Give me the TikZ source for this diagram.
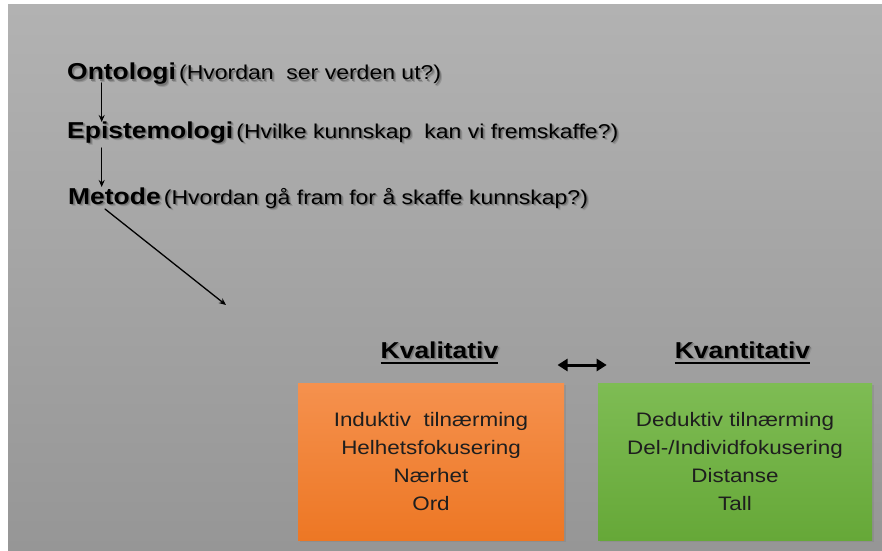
\documentclass[tikz,border=0pt]{standalone}
\usepackage{fontspec}
\setmainfont[FakeStretch=1.15]{Liberation Sans}
\usetikzlibrary{arrows.meta, positioning, calc, shadows}
\definecolor{BGtop}{RGB}{178,178,178}
\definecolor{BGbottom}{RGB}{150,150,150}
\definecolor{KVLtop}{RGB}{245,145,78}
\definecolor{KVLbottom}{RGB}{237,119,36}
\definecolor{KVNtop}{RGB}{126,188,84}
\definecolor{KVNbottom}{RGB}{102,168,56}
\definecolor{TXTdark}{RGB}{30,30,30}
\definecolor{SHDsoft}{RGB}{148,148,148}
\definecolor{SHDdark}{RGB}{118,118,118}
\newcommand{\softshadow}[1]{%
  \rlap{\hspace{2.5pt}\raisebox{-2.5pt}{\textcolor{SHDsoft}{#1}}}%
  \rlap{\hspace{1.5pt}\raisebox{-1.5pt}{\textcolor{SHDdark}{#1}}}#1}
\newcommand{\headword}[1]{{\fontsize{23}{27}\selectfont\bfseries\softshadow{#1}}}
\newcommand{\question}[1]{{\fontsize{20}{24}\selectfont\softshadow{#1}}}
\newcommand{\ulword}[1]{\setbox0\hbox{#1}\rlap{\rule[-6pt]{\wd0}{2pt}}\softshadow{#1}}
\tikzset{every path/.style={line cap=round, line join=round}}

\begin{document}
\begin{tikzpicture}[
    x=1pt, y=1pt,
    level/.style={
        anchor=base west,
        inner sep=0pt
    },
    title/.style={
        anchor=base,
        inner sep=0pt,
        font=\fontsize{23}{27}\selectfont\bfseries
    },
    block/.style={
        align=center,
        inner sep=0pt,
        minimum height=157pt,
        text=TXTdark,
        font=\fontsize{19.5}{28.3}\selectfont,
        drop shadow={opacity=0.35, shadow xshift=2pt, shadow yshift=-2pt}
    },
    arrow/.style={
        -{Stealth[length=7pt, width=6pt]},
        line width=1.3pt
    },
    both/.style={
        {Triangle[length=10pt, width=12pt]}-{Triangle[length=10pt, width=12pt]},
        line width=3pt
    }
]

% background
\fill[white] (0,0) rectangle (882,550);
\shade[top color=BGtop, bottom color=BGbottom] (8,0) rectangle (882,545);

\node[level] (onto) at (67,470)
{\headword{Ontologi} \question{(Hvordan\ \ ser verden ut?)}};

\node[level] (epi) at (67,412)
{\headword{Epistemologi} \question{(Hvilke kunnskap\ \ kan vi fremskaffe?)}};

\node[level] (meto) at (68,346)
{\headword{Metode} \question{(Hvordan gå fram for å skaffe kunnskap?)}};

\coordinate (down) at (226,245);

\draw[arrow] ([xshift=34.7pt, yshift=-3pt]onto.base west) -- ([xshift=34.7pt, yshift=16pt]epi.base west);
\draw[arrow] ([xshift=34.7pt, yshift=-10pt]epi.base west) -- ([xshift=33.7pt, yshift=17pt]meto.base west);
\draw[arrow] ([xshift=37pt, yshift=-5pt]meto.base west) -- (down);

\node[title] (kvalt) at (439.5,192) {\ulword{Kvalitativ}};
\node[title] (kvant) at (742.5,192) {\ulword{Kvantitativ}};

\draw[both] ($(kvalt.base east)+(59,-7)$) -- ($(kvant.base west)+(-68,-7)$);

\node[block, minimum width=266pt, top color=KVLtop, bottom color=KVLbottom] (kval) at (431,88.5)
{Induktiv\ \ tilnærming\\Helhetsfokusering\\Nærhet\\Ord};

\node[block, minimum width=274pt, top color=KVNtop, bottom color=KVNbottom] (kvan) at (735,88.5)
{Deduktiv tilnærming\\Del-/Individfokusering\\Distanse\\Tall};

\end{tikzpicture}
\end{document}
